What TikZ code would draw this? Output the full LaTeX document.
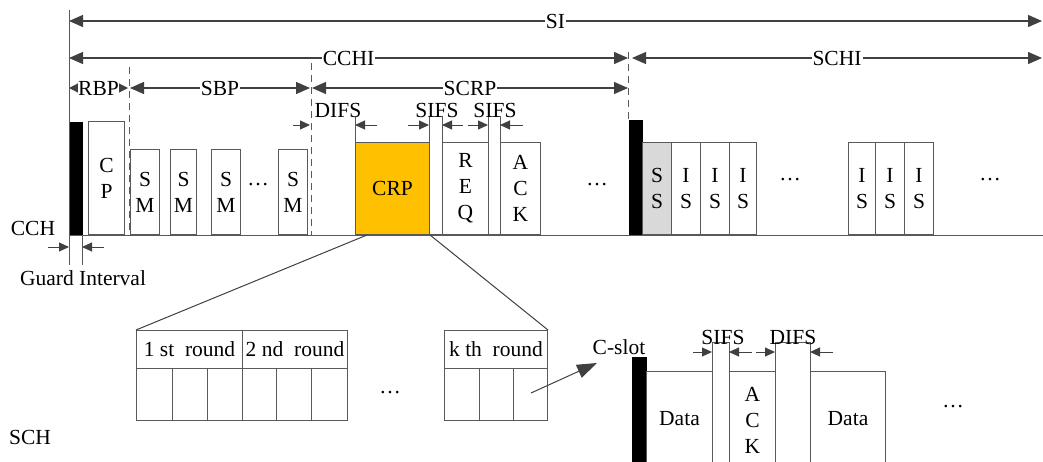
\documentclass[tikz,border=0pt]{standalone}
\usepackage{fontspec}
\setmainfont{Liberation Serif}
\usetikzlibrary{arrows.meta}
\definecolor{linec}{HTML}{404040}
\definecolor{boxc}{HTML}{595959}
\definecolor{crpc}{HTML}{FFC000}
\definecolor{ssc}{HTML}{D9D9D9}
\newcommand\myfs{\fontsize{21.5}{26}\selectfont}
\begin{document}
\begin{tikzpicture}[x=1pt,y=-1pt,
  box/.style={draw=boxc, line width=1pt, fill=white, inner sep=0pt, align=center, font=\myfs, anchor=south west},
  cell/.style={box, anchor=north west},
  bar/.style={draw=black, fill=black, inner sep=0pt, anchor=south west},
  dim/.style={draw=linec, line width=1.2pt, {Triangle[length=14pt,width=12pt]}-{Triangle[length=14pt,width=12pt]}},
  dimsmall/.style={draw=linec, line width=1.2pt, {Triangle[length=9pt,width=9pt]}-{Triangle[length=9pt,width=9pt]}},
  lab/.style={fill=white, inner sep=1pt, font=\myfs},
  txt/.style={inner sep=0pt, font=\myfs},
  tick/.style={draw=linec, line width=1pt, -{Triangle[length=10pt,width=9pt]}},
  bigarrow/.style={draw=linec, line width=1pt, -{Triangle[length=20pt,width=14pt]}},
  dashv/.style={draw=boxc, line width=1pt, dash pattern=on 7pt off 5pt},
  plain/.style={draw=boxc, line width=1pt}]
\useasboundingbox (0,0) rectangle (1043,461);
\clip (0,0) rectangle (1043,461);

% ---- dimension arrows
\coordinate (siL) at (69,21); \coordinate (siR) at (1042,21);
\coordinate (cchiL) at (69,58); \coordinate (cchiR) at (628,58);
\coordinate (schiL) at (632,58); \coordinate (schiR) at (1042,58);
\coordinate (rbpL) at (69,88); \coordinate (rbpR) at (128,88);
\coordinate (sbpL) at (130,88); \coordinate (sbpR) at (310,88);
\coordinate (scrpL) at (312,88); \coordinate (scrpR) at (628,88);
\draw[dim] (siL) -- node[lab] (siT) {SI} (siR);
\draw[dim] (cchiL) -- node[lab] (cchiT) {CCHI} (cchiR);
\draw[dim] (schiL) -- node[lab] (schiT) {SCHI} (schiR);
\draw[dimsmall] (rbpL) -- node[lab, inner sep=0pt] (rbpT) {RBP} (rbpR);
\draw[dim] (sbpL) -- node[lab] (sbpT) {SBP} (sbpR);
\draw[dim] (scrpL) -- node[lab] (scrpT) {SCRP} (scrpR);

% ---- vertical guide lines
\coordinate (vlT) at (69,10); \coordinate (vlB) at (69,265);
\draw[plain] (vlT) -- (vlB);
\coordinate (d1T) at (129,67); \coordinate (d1B) at (129,235);
\coordinate (d2T) at (311,63); \coordinate (d2B) at (311,235);
\coordinate (d3T) at (628,52); \coordinate (d3B) at (628,120);
\draw[dashv] (d1T) -- (d1B);
\draw[dashv] (d2T) -- (d2B);
\draw[dashv] (d3T) -- (d3B);

% ---- CCH row
\coordinate (cchL) at (69,235); \coordinate (cchR) at (1043,235);
\node[bar, minimum width=12pt, minimum height=113pt] (bar1) at (70,235) {};
\node[box, minimum width=36pt, minimum height=113pt] (cp) at (88,235) {C\\P};
\node[box, minimum width=29pt, minimum height=85pt] (sm1) at (130,235) {S\\M};
\node[box, minimum width=26pt, minimum height=85pt] (sm2) at (170,235) {S\\M};
\node[box, minimum width=29pt, minimum height=85pt] (sm3) at (211,235) {S\\M};
\node[txt] (dt1) at (258,185) {\dots};
\node[box, minimum width=29pt, minimum height=85pt] (sm4) at (278,235) {S\\M};
\node[box, fill=crpc, minimum width=74pt, minimum height=92pt] (crp) at (355,235) {CRP};
\node[box, minimum width=13pt, minimum height=118pt] (g1) at (429,235) {};
\node[box, minimum width=46pt, minimum height=92pt] (req) at (442,235) {R\\E\\Q};
\node[box, minimum width=12pt, minimum height=118pt] (g2) at (488,235) {};
\node[box, minimum width=40pt, minimum height=92pt] (ack) at (500,235) {A\\C\\K};
\node[txt] (dt2) at (597,185) {\dots};
\node[bar, minimum width=13pt, minimum height=115pt] (bar2) at (629,235) {};
\node[box, fill=ssc, minimum width=29pt, minimum height=92pt] (ss) at (642,235) {S\\S};
\node[box, minimum width=29pt, minimum height=92pt] (is1) at (671,235) {I\\S};
\node[box, minimum width=29pt, minimum height=92pt] (is2) at (700,235) {I\\S};
\node[box, minimum width=27pt, minimum height=92pt] (is3) at (729,235) {I\\S};
\node[txt] (dt3) at (790,180) {\dots};
\node[box, minimum width=27pt, minimum height=92pt] (is4) at (848,235) {I\\S};
\node[box, minimum width=29pt, minimum height=92pt] (is5) at (875,235) {I\\S};
\node[box, minimum width=29pt, minimum height=92pt] (is6) at (904,235) {I\\S};
\node[txt] (dt4) at (990,180) {\dots};
\draw[plain] (cchL) -- (cchR);

% CRP left edge extension
\coordinate (crpT) at (355,117); \coordinate (crpB) at (355,143);
\draw[plain] (crpT) -- (crpB);

% ---- interval labels and ticks
\node[txt] (difsT) at (338,110) {DIFS};
\node[txt] (sifs1) at (437,110) {SIFS};
\node[txt] (sifs2) at (495,110) {SIFS};
\coordinate (a1s) at (293,125); \coordinate (a1e) at (310,125);
\coordinate (a2s) at (377,125); \coordinate (a2e) at (355,125);
\coordinate (a3s) at (408,125); \coordinate (a3e) at (429,125);
\coordinate (a4s) at (463,125); \coordinate (a4e) at (442,125);
\coordinate (a5s) at (468,125); \coordinate (a5e) at (488,125);
\coordinate (a6s) at (523,125); \coordinate (a6e) at (500,125);
\foreach \i in {1,...,6} {\draw[tick] (a\i s) -- (a\i e);}

% ---- CCH label and guard interval
\node[txt] (cchT) at (33,228) {CCH};
\coordinate (grT) at (82,235); \coordinate (grB) at (82,265);
\draw[plain] (grT) -- (grB);
\coordinate (ga1s) at (48,247); \coordinate (ga1e) at (69,247);
\coordinate (ga2s) at (104,247); \coordinate (ga2e) at (82,247);
\draw[tick] (ga1s) -- (ga1e);
\draw[tick] (ga2s) -- (ga2e);
\node[txt] (guard) at (83,278) {Guard Interval};

% ---- rounds table
\node[cell, minimum width=106pt, minimum height=38pt] (h1) at (136,330) {1 st~ round};
\node[cell, minimum width=105pt, minimum height=38pt] (h2) at (242,330) {2 nd~ round};
\node[cell, minimum width=103pt, minimum height=38pt] (hk) at (444,330) {k th~ round};
\node[cell, minimum width=36pt, minimum height=52pt] (c1) at (136,368) {};
\node[cell, minimum width=35pt, minimum height=52pt] (c2) at (172,368) {};
\node[cell, minimum width=35pt, minimum height=52pt] (c3) at (207,368) {};
\node[cell, minimum width=34pt, minimum height=52pt] (c4) at (242,368) {};
\node[cell, minimum width=35pt, minimum height=52pt] (c5) at (276,368) {};
\node[cell, minimum width=36pt, minimum height=52pt] (c6) at (311,368) {};
\node[cell, minimum width=35pt, minimum height=52pt] (k1) at (444,368) {};
\node[cell, minimum width=34pt, minimum height=52pt] (k2) at (479,368) {};
\node[cell, minimum width=34pt, minimum height=52pt] (k3) at (513,368) {};
\node[txt] (dt5) at (390,393) {\dots};

% zoom lines
\coordinate (zl) at (367,235);
\draw[draw=linec, line width=1pt] (zl) -- (h1.north west);
\draw[draw=linec, line width=1pt] (crp.south east) -- (hk.north east);

% C-slot arrow
\coordinate (cs1) at (531,393); \coordinate (cs2) at (597,363);
\draw[bigarrow] (cs1) -- (cs2);
\node[txt] (cslot) at (619,347) {C-slot};

% ---- SCH row
\node[txt] (schT) at (30,437) {SCH};
\node[bar, minimum width=14pt, minimum height=113pt] (bar3) at (632,470) {};
\node[box, minimum width=66pt, minimum height=98pt] (data1) at (646,470) {\raisebox{4pt}{Data}};
\node[box, minimum width=17pt, minimum height=127pt] (n1) at (712,470) {};
\node[box, minimum width=46pt, minimum height=98pt] (ack2) at (729,470) {A\\C\\K};
\node[box, minimum width=35pt, minimum height=127pt] (n2) at (775,470) {};
\node[box, minimum width=75pt, minimum height=98pt] (data2) at (810,470) {\raisebox{4pt}{Data}};
\node[txt] (sifs3) at (723,337) {SIFS};
\node[txt] (difs2) at (793,337) {DIFS};
\coordinate (b1s) at (693,352); \coordinate (b1e) at (712,352);
\coordinate (b2s) at (752,352); \coordinate (b2e) at (729,352);
\coordinate (b3s) at (756,352); \coordinate (b3e) at (775,352);
\coordinate (b4s) at (833,352); \coordinate (b4e) at (810,352);
\foreach \i in {1,...,4} {\draw[tick] (b\i s) -- (b\i e);}
\node[txt] (dt6) at (953,407) {\dots};
\end{tikzpicture}
\end{document}
